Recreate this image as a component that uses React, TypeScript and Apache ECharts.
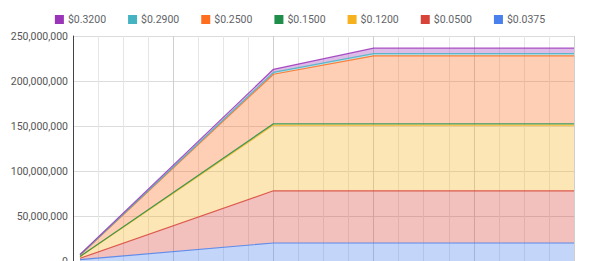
import React, { useEffect, useRef } from "react";
import * as echarts from "echarts";

const periods = [0.28, 8, 12, 20];
const seriesNames = ["$0.0375", "$0.0500", "$0.1200", "$0.1500", "$0.2500", "$0.2900", "$0.3200"];
const v0375 = [1.5e6, 20e6, 20e6, 20e6];
const v0500 = [1.5e6, 58e6, 58e6, 58e6];
const v1200 = [1.8e6, 73e6, 73e6, 73e6];
const v1500 = [0.3e6, 1.5e6, 1.5e6, 1.5e6];
const v2500 = [1.3e6, 55e6, 75.5e6, 75.5e6];
const v2900 = [0.3e6, 2e6, 2.5e6, 2.5e6];
const v3200 = [0.6e6, 3.5e6, 6e6, 6e6];
const seriesValues = [v0375, v0500, v1200, v1500, v2500, v2900, v3200];
const lineColors = ["#4a80ec", "#d9443a", "#f5b21e", "#1e8e4a", "#ff6d1f", "#45b3c2", "#9a34b8"];
const yTicks = [0, 50e6, 100e6, 150e6, 200e6, 250e6];

export default function App() {
  const ref = useRef<HTMLDivElement>(null);
  useEffect(() => {
    if (!ref.current) return;
    const chart = echarts.init(ref.current, null, { renderer: "svg" });
    chart.setOption({
      animation: false,
      textStyle: { fontFamily: "Roboto" },
      legend: {
        top: 9,
        left: "center",
        itemWidth: 9,
        itemHeight: 9,
        itemGap: 22,
        icon: "rect",
        data: [...seriesNames].reverse(),
        textStyle: { color: "#5f6368", fontSize: 10.5, padding: [0, 0, 0, -1] },
      },
      grid: { left: 73, right: 26, top: 36, bottom: 39, containLabel: false },
      xAxis: {
        type: "value",
        min: 0,
        max: 20,
        interval: 4,
        axisLabel: { show: false },
        axisTick: { show: false },
        axisLine: { show: false },
        splitLine: { show: true, lineStyle: { color: "#cfcfcf", width: 1 } },
        minorTick: { show: false, splitNumber: 4 },
        minorSplitLine: { show: true, lineStyle: { color: "#e6e6e6", width: 1 } },
      },
      yAxis: {
        type: "value",
        min: yTicks[0],
        max: yTicks[yTicks.length - 1],
        interval: 50e6,
        axisLine: { show: true, lineStyle: { color: "#444", width: 1 } },
        axisTick: { show: false },
        axisLabel: {
          color: "#555",
          fontSize: 10.5,
          margin: 5,
          formatter: (v: number) => v.toLocaleString("en-US"),
        },
        splitLine: { show: true, lineStyle: { color: "#dcdcdc" } },
      },
      series: seriesNames.map((name, i) => ({
        name,
        type: "line",
        stack: "total",
        symbol: "none",
        color: lineColors[i],
        encode: { x: 1, y: 0 },
        lineStyle: { width: 1.2, color: lineColors[i], opacity: 0.85 },
        areaStyle: { color: lineColors[i], opacity: 0.33 },
        data: periods.map((p, j) => [seriesValues[i][j], p]),
      })),
    });
    return () => chart.dispose();
  }, []);
  return (
    <div
      ref={ref}
      style={{ position: "absolute", left: 0, top: 0, width: 600, height: 300 }}
    />
  );
}
